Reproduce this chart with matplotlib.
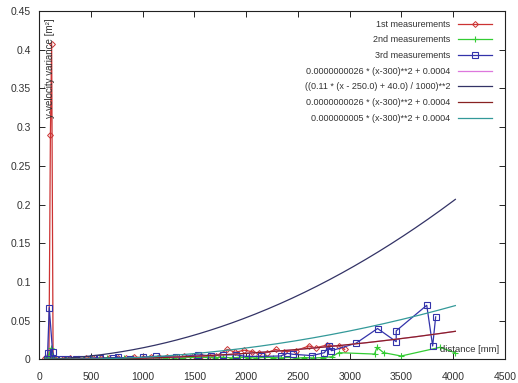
import numpy as np
import matplotlib
matplotlib.use("Agg")
import matplotlib.pyplot as plt

plt.rcParams['font.family'] = ['Liberation Sans', 'DejaVu Sans']

# 1st measurements (distance mm, variance m^2)
x1 = [60, 96, 110, 122, 136, 170, 230, 300, 380, 450, 520, 600, 680, 760, 840, 920,
      1000, 1080, 1160, 1240, 1320, 1400, 1480, 1560, 1640, 1708, 1820, 1894, 1981,
      2061, 2125, 2205, 2285, 2365, 2477, 2606, 2670, 2782, 2894, 2952]
y1 = [0.002, 0.004, 0.29, 0.408, 0.002, 0.001, 0.001, 0.0015, 0.001, 0.002, 0.0015,
      0.002, 0.002, 0.0025, 0.002, 0.003, 0.0025, 0.003, 0.003, 0.0035, 0.003, 0.004,
      0.0035, 0.004, 0.0045, 0.0045, 0.013, 0.0093, 0.012, 0.010, 0.008, 0.009, 0.013,
      0.010, 0.0113, 0.0174, 0.015, 0.0187, 0.0174, 0.013]

# 2nd measurements
x2 = [60, 90, 118, 140, 190, 260, 340, 420, 500, 580, 660, 740, 820, 900, 980, 1060,
      1140, 1220, 1300, 1380, 1460, 1540, 1620, 1700, 1780, 1860, 1940, 2020, 2100,
      2180, 2260, 2340, 2420, 2477, 2560, 2650, 2740, 2830, 2894, 3240, 3263, 3327,
      3497, 3872, 4016]
y2 = [0.001, 0.003, 0.015, 0.002, 0.001, 0.0005, 0.001, 0.001, 0.0015, 0.001, 0.002,
      0.0015, 0.002, 0.0015, 0.002, 0.002, 0.0025, 0.002, 0.0025, 0.002, 0.003, 0.0025,
      0.003, 0.0025, 0.003, 0.002, 0.003, 0.0025, 0.002, 0.003, 0.0025, 0.002, 0.003,
      0.0015, 0.0025, 0.002, 0.0025, 0.0036, 0.0088, 0.007, 0.0157, 0.0088, 0.0045,
      0.0157, 0.0088]

# 3rd measurements
x3 = [74, 83, 99, 131, 154, 218, 282, 362, 410, 464, 522, 587, 715, 763, 875, 1003,
      1131, 1324, 1532, 1660, 1772, 1901, 1997, 2141, 2333, 2397, 2452, 2638, 2756,
      2798, 2824, 3061, 3269, 3449, 3449, 3744, 3801, 3830]
y3 = [0.0005, 0.008, 0.067, 0.010, 0.0, 0.0, 0.0, 0.0005, 0.001, 0.001, 0.002, 0.0015,
      0.002, 0.003, 0.0005, 0.003, 0.004, 0.003, 0.006, 0.005, 0.006, 0.006, 0.004,
      0.004, 0.0045, 0.008, 0.0067, 0.005, 0.0088, 0.0174, 0.0113, 0.021, 0.040, 0.023,
      0.037, 0.070, 0.0174, 0.055]

fit_labels = ["0.0000000026 * (x-300)**2 + 0.0004",
              "((0.11 * (x - 250.0) + 40.0) / 1000)**2",
              "0.0000000026 * (x-300)**2 + 0.0004",
              "0.000000005 * (x-300)**2 + 0.0004"]

xf = np.linspace(60, 4020, 300)
fits = [2.6e-9 * (xf - 300) ** 2 + 0.0004,
        ((0.11 * (xf - 250.0) + 40.0) / 1000) ** 2,
        2.6e-9 * (xf - 300) ** 2 + 0.0004,
        5e-9 * (xf - 300) ** 2 + 0.0004]
fit_colors = ['#dd77dd', '#333366', '#882222', '#339999']

fig = plt.figure(figsize=(5.18, 3.83), dpi=100)
ax = fig.add_axes([0.0753, 0.0614, 0.8997, 0.9099])

ax.plot(x1, y1, color='#cc3333', lw=0.9, marker='D', ms=3.0, mfc='none', mew=0.7,
        label='1st measurements')
ax.plot(x2, y2, color='#33cc33', lw=0.9, marker='+', ms=5, mew=0.8,
        label='2nd measurements')
ax.plot(x3, y3, color='#3333aa', lw=0.9, marker='s', ms=4.3, mfc='none', mew=0.8,
        label='3rd measurements')
for f, c, lab in zip(fits, fit_colors, fit_labels):
    ax.plot(xf, f, color=c, lw=0.9, label=lab)

ax.set_xlim(0, 4500)
ax.set_ylim(0, 0.45)
ax.set_xticks(np.arange(0, 4501, 500))
ax.set_yticks(np.arange(0, 0.451, 0.05))
ax.set_yticklabels(['0', '0.05', '0.1', '0.15', '0.2', '0.25', '0.3', '0.35', '0.4', '0.45'])
ax.tick_params(direction='in', length=4, width=0.6, top=True, right=True,
               labelsize=7.5, labelcolor='#333333')
ax.tick_params(axis='y', pad=6)
ax.tick_params(axis='x', pad=9)
for s in ax.spines.values():
    s.set_linewidth(0.8)
    s.set_color('#222222')

ax.text(110, 0.441, 'y-velocity variance [m²]', rotation=90, va='top', ha='center',
        fontsize=7, color='#333333')
ax.text(4440, 0.0125, 'distance [mm]', ha='right', va='center', fontsize=6.8,
        color='#333333')

leg = ax.legend(loc='upper right', bbox_to_anchor=(0.972, 0.975), frameon=False,
                markerfirst=False, fontsize=6.5, handlelength=3.8, labelspacing=0.74,
                handletextpad=0.8, borderaxespad=0, borderpad=0)
for t in leg.get_texts():
    t.set_color('#333333')

fig.savefig('out.png', dpi=100)
